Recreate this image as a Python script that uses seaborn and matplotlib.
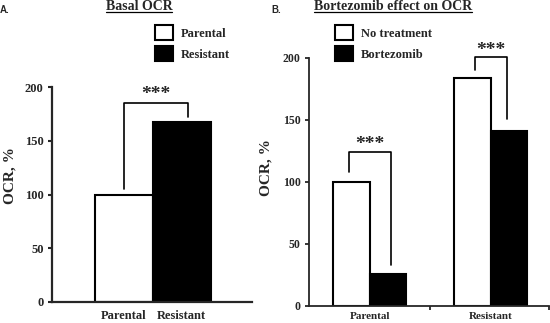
import pandas as pd
import seaborn as sns
import matplotlib.pyplot as plt
from matplotlib.lines import Line2D

# ---- data ----
basal_lines = ["Parental", "Resistant"]
basal_ocr = [100, 167]

treat_lines = ["Parental", "Parental", "Resistant", "Resistant"]
treatments = ["No treatment", "Bortezomib", "No treatment", "Bortezomib"]
treat_ocr = [100, 26, 184, 141]

yticks = [0, 50, 100, 150, 200]

sns.set_style("ticks")
plt.rcParams["font.family"] = ["Liberation Serif", "DejaVu Serif"]
plt.rcParams["font.weight"] = "bold"

W, H = 550, 323
fig = plt.figure(figsize=(W / 100, H / 100), dpi=100)


def px_axes(x0, y0, x1, y1):
    # pixel box (top-left origin) -> figure fraction
    return fig.add_axes([x0 / W, 1 - y1 / H, (x1 - x0) / W, (y1 - y0) / H])


def px_legend(ax, x, y):
    handles, labels = ax.get_legend_handles_labels()
    ax.legend(handles, labels, loc="upper left",
              bbox_to_anchor=(x / W, 1 - y / H), bbox_transform=fig.transFigure,
              frameon=False, borderpad=0, borderaxespad=0,
              handlelength=1.45, handleheight=1.45, labelspacing=0.5,
              handletextpad=0.65, prop=dict(size=9, weight="bold"))


# =========================
# A. Basal OCR
# =========================
axA = px_axes(52, 87, 252, 302)
df_a = pd.DataFrame({"line": basal_lines, "ocr": basal_ocr})
sns.barplot(data=df_a, x="line", y="ocr", hue="line", palette=["white", "black"],
            edgecolor="black", linewidth=1.5, width=1.0, ax=axA, legend=True)
axA.set_xlim(-1.24, 2.21)
axA.set_ylim(0, 200)
axA.set_yticks(yticks)
axA.set_xlabel("")
axA.set_ylabel("OCR, %", fontsize=11, fontweight="bold")
axA.yaxis.set_label_coords(-0.175, 0.59)
axA.tick_params(axis="y", length=3, width=1.5, labelsize=9, pad=3)
axA.tick_params(axis="x", length=0, labelsize=9, pad=6)
sns.despine(ax=axA)
for s in ["left", "bottom"]:
    axA.spines[s].set_linewidth(1.6)
px_legend(axA, 155, 25)

axA.plot([0, 0, 1.1, 1.1], [105, 185, 185, 172], color="black", lw=1.2, clip_on=False)
axA.text(0.55, 193, "***", ha="center", va="center", fontsize=14, fontweight="bold")

# =========================
# B. Bortezomib effect on OCR
# =========================
axB = px_axes(309, 58, 549, 306)
df_b = pd.DataFrame({"line": treat_lines, "treatment": treatments, "ocr": treat_ocr})
sns.barplot(data=df_b, x="line", y="ocr", hue="treatment", palette=["white", "black"],
            edgecolor="black", linewidth=1.5, width=0.6, ax=axB, legend=True)
axB.set_xlim(-0.5, 1.48)
axB.set_ylim(0, 200)
axB.set_yticks(yticks)
axB.set_xticks([0.5, 1.48], minor=True)
axB.set_xlabel("")
axB.set_ylabel("OCR, %", fontsize=11, fontweight="bold")
axB.yaxis.set_label_coords(-0.15, 0.56)
axB.tick_params(axis="y", length=3, width=1.3, labelsize=8.5, pad=3)
axB.tick_params(axis="x", which="major", length=0, labelsize=8, pad=4.5)
axB.tick_params(axis="x", which="minor", length=3, width=1.3)
sns.despine(ax=axB)
for s in ["left", "bottom"]:
    axB.spines[s].set_linewidth(1.3)
px_legend(axB, 335, 25)

axB.plot([-0.17, -0.17, 0.18, 0.18], [108, 124, 124, 33], color="black", lw=1.2, clip_on=False)
axB.text(0.0, 130, "***", ha="center", va="center", fontsize=14, fontweight="bold")
axB.plot([0.87, 0.87, 1.13, 1.13], [190, 201, 201, 151], color="black", lw=1.2, clip_on=False)
axB.text(1.0, 206, "***", ha="center", va="center", fontsize=14, fontweight="bold")

# ---- titles (underlined) and panel letters ----
titles = []
for x, txt in [(139, "Basal OCR"), (393, "Bortezomib effect on OCR")]:
    titles.append(fig.text(x / W, 1 - 10 / H, txt, ha="center", va="baseline",
                           fontsize=10, fontweight="bold"))
fig.text(0 / W, 1 - 13 / H, "A.", family="Liberation Sans", fontsize=7, fontweight="bold")
fig.text(271 / W, 1 - 13 / H, "B.", family="Liberation Sans", fontsize=7, fontweight="bold")

fig.canvas.draw()
for t in titles:
    bb = t.get_window_extent()
    fig.add_artist(Line2D([bb.x0 / W, bb.x1 / W], [(H - 12) / H, (H - 12) / H],
                          transform=fig.transFigure, color="black", lw=0.9))

fig.savefig("out.png", dpi=100)
plt.close(fig)
